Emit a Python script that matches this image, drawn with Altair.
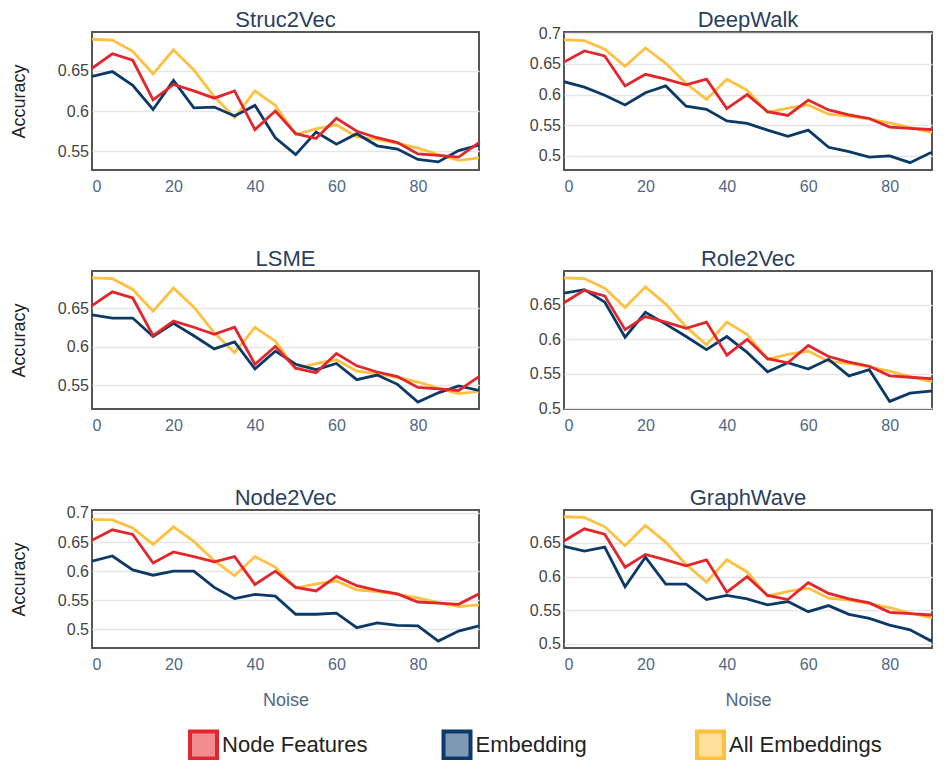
import altair as alt
import pandas as pd

noise = [0, 5, 10, 15, 20, 25, 30, 35, 40, 45, 50, 55, 60, 65, 70, 75, 80, 85, 90, 95]

node_features = [0.653, 0.671, 0.663, 0.614, 0.633, 0.625, 0.616, 0.625, 0.577, 0.600,
                 0.572, 0.566, 0.591, 0.575, 0.567, 0.561, 0.547, 0.545, 0.543, 0.561]
all_embeddings = [0.689, 0.688, 0.674, 0.646, 0.676, 0.651, 0.618, 0.592, 0.625, 0.607,
                  0.571, 0.578, 0.583, 0.568, 0.565, 0.560, 0.554, 0.546, 0.539, 0.542]

emb_struc2vec = [0.643, 0.649, 0.632, 0.602, 0.638, 0.604, 0.605, 0.594, 0.607, 0.567,
                 0.546, 0.574, 0.559, 0.572, 0.557, 0.553, 0.540, 0.537, 0.551, 0.558]
emb_deepwalk = [0.621, 0.612, 0.599, 0.583, 0.603, 0.614, 0.581, 0.576, 0.557, 0.553,
                0.542, 0.532, 0.542, 0.514, 0.507, 0.498, 0.500, 0.489, 0.505, 0.506]
emb_lsme = [0.641, 0.637, 0.637, 0.613, 0.630, 0.614, 0.597, 0.606, 0.571, 0.594,
            0.577, 0.570, 0.578, 0.557, 0.563, 0.551, 0.528, 0.540, 0.549, 0.543]
emb_role2vec = [0.667, 0.672, 0.654, 0.603, 0.639, 0.622, 0.604, 0.585, 0.604, 0.581,
                0.553, 0.566, 0.557, 0.571, 0.547, 0.556, 0.510, 0.522, 0.525, 0.525]
emb_node2vec = [0.617, 0.626, 0.602, 0.593, 0.600, 0.600, 0.572, 0.553, 0.560, 0.557,
                0.526, 0.526, 0.528, 0.503, 0.511, 0.507, 0.506, 0.480, 0.497, 0.506]
emb_graphwave = [0.645, 0.638, 0.644, 0.585, 0.629, 0.589, 0.589, 0.566, 0.572, 0.567,
                 0.558, 0.563, 0.548, 0.557, 0.544, 0.538, 0.528, 0.521, 0.505, 0.520]

methods = ["Struc2Vec", "DeepWalk", "LSME", "Role2Vec", "Node2Vec", "GraphWave"]
embeddings = [emb_struc2vec, emb_deepwalk, emb_lsme, emb_role2vec, emb_node2vec, emb_graphwave]
y_domains = [[0.527, 0.698], [0.477, 0.702], [0.519, 0.698],
             [0.499, 0.699], [0.468, 0.705], [0.494, 0.699]]
y_ticks = [[0.55, 0.6, 0.65], [0.5, 0.55, 0.6, 0.65, 0.7], [0.55, 0.6, 0.65],
           [0.5, 0.55, 0.6, 0.65], [0.5, 0.55, 0.6, 0.65, 0.7], [0.5, 0.55, 0.6, 0.65]]
x_ticks = [0, 20, 40, 60, 80]
# the right-hand column is cut off by the page edge in the reference
x_domain_left = [0, 95]
x_domain_right = [0, 90.4]

series_names = ["Node Features", "Embedding", "All Embeddings"]
line_colors = ["#e3262c", "#0b3a68", "#ffbf3f"]
fill_colors = ["#f08d91", "#7f98b3", "#ffdf99"]
draw_order = ["All Embeddings", "Embedding", "Node Features"]

color_scale = alt.Scale(domain=series_names, range=line_colors)

PH = 138
LABEL_HALF = 8  # half height of a y tick label


def panel(i, left, bottom):
    rows = []
    for s, vals in zip(series_names, [node_features, embeddings[i], all_embeddings]):
        for n, v in zip(noise, vals):
            rows.append({"noise": n, "acc": v, "series": s})
    df = pd.DataFrame(rows)
    dom = y_domains[i]
    # keep every title at the same height even when a tick label pokes above the frame
    poke = max(0.0, LABEL_HALF - (dom[1] - max(y_ticks[i])) / (dom[1] - dom[0]) * PH)
    x_axis = alt.Axis(values=x_ticks, format="d", title="Noise" if bottom else None, grid=False)
    y_axis = alt.Axis(values=y_ticks[i], format="~g", title="Accuracy" if left else None)
    xdom = x_domain_left if left else x_domain_right
    base = alt.Chart(df).mark_line(strokeWidth=2.8, clip=True).encode(
        x=alt.X("noise:Q", scale=alt.Scale(domain=xdom, nice=False), axis=x_axis),
        y=alt.Y("acc:Q", scale=alt.Scale(domain=dom, nice=False, zero=False), axis=y_axis),
        color=alt.Color("series:N", scale=color_scale, legend=None),
    )
    layers = [base.transform_filter(alt.datum.series == s) for s in draw_order]
    return alt.layer(*layers).properties(
        width=387 if left else 368, height=PH,
        title=alt.TitleParams(methods[i], offset=-0.2 - poke),
        view=alt.ViewBackground(stroke="#555", strokeWidth=2),
    )


rows_charts = []
for r in range(3):
    rows_charts.append(alt.hconcat(panel(2 * r, True, r == 2), panel(2 * r + 1, False, r == 2), spacing=48))

grid = alt.vconcat(*rows_charts, spacing=52)

leg_df = pd.DataFrame({"series": series_names})
leg_base = alt.Chart(leg_df).encode(
    x=alt.X("series:N", sort=series_names, scale=alt.Scale(type="point", padding=0.44), axis=None)
)
swatch = leg_base.mark_square(size=729, strokeWidth=4, opacity=1).encode(
    fill=alt.Fill("series:N", scale=alt.Scale(domain=series_names, range=fill_colors), legend=None),
    stroke=alt.Stroke("series:N", scale=alt.Scale(domain=series_names, range=line_colors), legend=None),
)
labels = leg_base.mark_text(align="left", baseline="middle", dx=18.5, fontSize=22, color="#222").encode(
    text="series:N"
)
legend = alt.layer(swatch, labels).properties(
    width=730, height=30, view=alt.ViewBackground(stroke="transparent")
)

chart = alt.vconcat(grid, legend, spacing=13).properties(
    padding={"left": 1, "top": 0, "right": 0, "bottom": 0}
).configure(
    font="Liberation Sans"
).configure_axis(
    gridColor="#e5e5e5", gridWidth=1.5, domain=False, ticks=False, tickSize=0,
    labelFontSize=16, titleFontSize=18, titleFontWeight="normal",
).configure_axisX(
    labelColor="#506784", labelPadding=8, titleColor="#506784", titlePadding=19,
).configure_axisY(
    labelColor="#444", labelPadding=3.5, titleColor="#222", titlePadding=29,
).configure_title(
    fontSize=22, color="#2a3f5f", fontWeight="normal", anchor="middle",
)

chart.save("out.html", embed_options={"renderer": "svg", "actions": False})
